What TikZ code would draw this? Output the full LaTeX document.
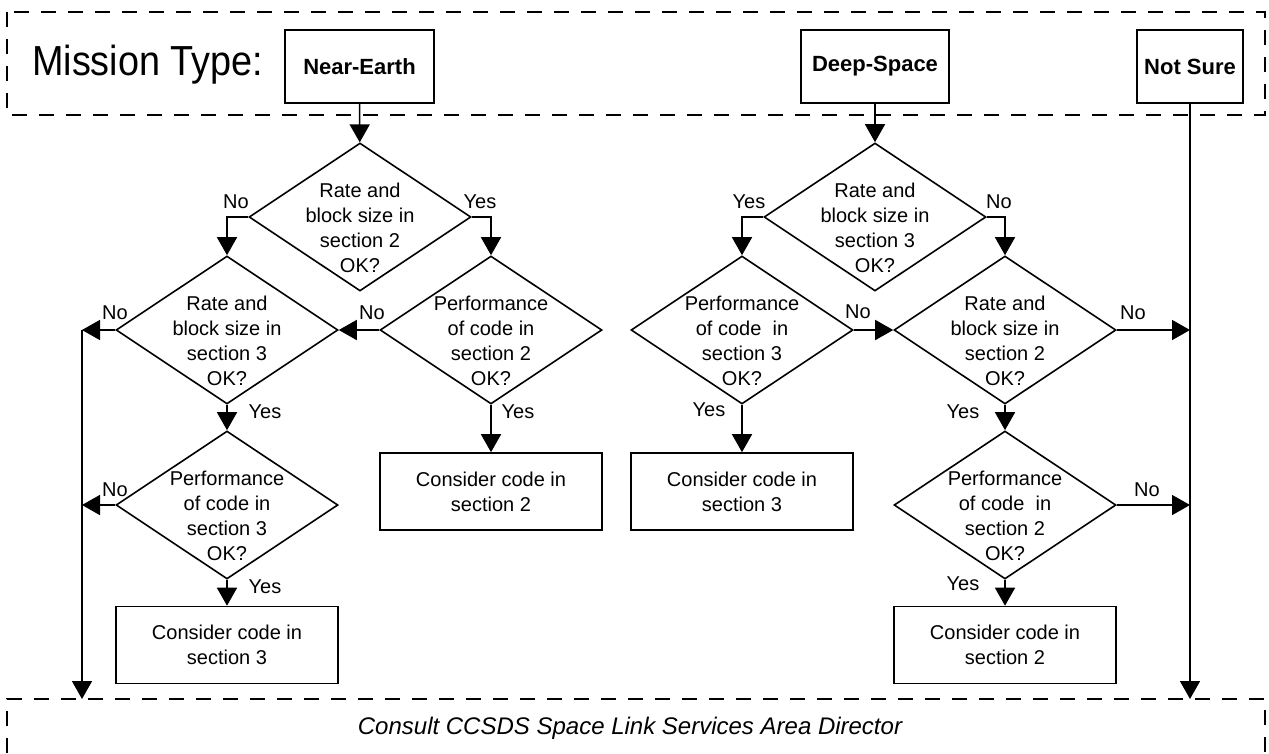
\documentclass[tikz,border=0pt]{standalone}
\usepackage{fontspec}
\setmainfont{Liberation Sans}
\newfontfamily\titlefont[FakeStretch=0.9]{Liberation Sans}
\usetikzlibrary{arrows.meta,shapes.geometric}

\begin{document}
\begin{tikzpicture}[x=1pt, y=-1pt,
        decision/.style={draw, diamond, line width=1.6pt, minimum width=222pt, minimum height=148pt, inner sep=0pt},
        dtext/.style={align=center, font=\fontsize{20}{25}\selectfont, yshift=-11pt},
        action/.style={draw, rectangle, line width=1.6pt, minimum width=222pt, minimum height=77pt, align=center, font=\fontsize{20}{25}\selectfont},
        mission/.style={draw, rectangle, line width=1.6pt, minimum height=73pt, font=\bfseries\fontsize{22}{26}\selectfont},
        yn/.style={font=\fontsize{20}{24}\selectfont, inner sep=0pt},
        arr/.style={line width=1.6pt, -{Triangle[length=18pt,width=20pt]}},
        frame/.style={line width=1.6pt, dash pattern=on 15pt off 12pt}
    ]
        \useasboundingbox (0,0) rectangle (1269,753);

        % Dashed frames (top: mission type, bottom: consult)
        \draw[frame] (7,12) rectangle (1265,115);
        \draw[frame] (7,753) -- (7,699) -- (1265,699) -- (1265,753);

        % --- Mission type row ---
        \node[anchor=base west, inner sep=0pt, font=\titlefont\fontsize{42}{48}\selectfont] (mtype) at (32,75) {Mission Type:};
        \node[mission, minimum width=149pt] (near) at (359.5,66.5) {Near-Earth};
        \node[mission, minimum width=148pt] (deep) at (875,66.5) {Deep-Space};
        \node[mission, minimum width=106pt] (notsure) at (1190,66.5) {Not Sure};

        % --- Near-Earth branch ---
        \node[decision, label={[dtext]center:{Rate and\\block size in\\section 2\\OK?}}] (ne1) at (360,217) {};
        \node[decision, label={[dtext]center:{Rate and\\block size in\\section 3\\OK?}}] (ne2) at (227,330) {};
        \node[decision, label={[dtext]center:{Performance\\of code in\\section 2\\OK?}}] (ne3) at (491,330) {};
        \node[decision, label={[dtext]center:{Performance\\of code in\\section 3\\OK?}}] (ne4) at (227,505) {};
        \node[action] (neb2) at (491,491.5) {Consider code in\\section 2};
        \node[action] (neb3) at (227,645) {Consider code in\\section 3};

        % --- Deep-Space branch ---
        \node[decision, label={[dtext]center:{Rate and\\block size in\\section 3\\OK?}}] (ds1) at (875,217) {};
        \node[decision, label={[dtext]center:{Performance\\of code\ \ in\\section 3\\OK?}}] (ds2) at (742,330) {};
        \node[decision, label={[dtext]center:{Rate and\\block size in\\section 2\\OK?}}] (ds3) at (1005,330) {};
        \node[decision, label={[dtext]center:{Performance\\of code\ \ in\\section 2\\OK?}}] (ds4) at (1005,505) {};
        \node[action] (dsb3) at (742,491.5) {Consider code in\\section 3};
        \node[action] (dsb2) at (1005,645) {Consider code in\\section 2};

        % --- Consult row ---
        \node[anchor=base, inner sep=0pt, font=\itshape\fontsize{24}{28}\selectfont] (consult) at (630,734) {Consult CCSDS Space Link Services Area Director};
        \coordinate (lft) at (82,699);
        \coordinate (rgt) at (1190,699);

        % Connectors, Near-Earth
        \draw[arr] (near) -- (ne1);
        \draw[arr] (ne1.west) -| (ne2.north);
        \draw[arr] (ne1.east) -| (ne3.north);
        \draw[arr] (ne3.west) -- (ne2.east);
        \draw[arr] (ne2.west) -- (ne2.west -| lft);
        \draw[arr] (ne2.west -| lft) -- (lft);
        \draw[arr] (ne2) -- (ne4);
        \draw[arr] (ne4.west) -- (ne4.west -| lft);
        \draw[arr] (ne4) -- (neb3);
        \draw[arr] (ne3) -- (neb2);

        % Connectors, Deep-Space
        \draw[arr] (deep) -- (ds1);
        \draw[arr] (ds1.west) -| (ds2.north);
        \draw[arr] (ds1.east) -| (ds3.north);
        \draw[arr] (ds2.east) -- (ds3.west);
        \draw[arr] (ds2) -- (dsb3);
        \draw[arr] (ds3.east) -- (ds3.east -| rgt);
        \draw[arr] (ds3) -- (ds4);
        \draw[arr] (ds4.east) -- (ds4.east -| rgt);
        \draw[arr] (ds4) -- (dsb2);
        \draw[arr] (notsure) -- (rgt);

        % Yes / No labels
        \node[yn] (ne1no) at (236,202) {No};
        \node[yn] (ne1yes) at (480,202) {Yes};
        \node[yn] (ne2no) at (115,313) {No};
        \node[yn] (ne3no) at (372,313) {No};
        \node[yn] (ne2yes) at (265,412) {Yes};
        \node[yn] (ne3yes) at (518,412) {Yes};
        \node[yn] (ne4no) at (115,490) {No};
        \node[yn] (ne4yes) at (265,587) {Yes};
        \node[yn] (ds1yes) at (749,202) {Yes};
        \node[yn] (ds1no) at (999,202) {No};
        \node[yn] (ds2no) at (858,312) {No};
        \node[yn] (ds2yes) at (709,410) {Yes};
        \node[yn] (ds3no) at (1133,313) {No};
        \node[yn] (ds3yes) at (963,412) {Yes};
        \node[yn] (ds4no) at (1147,490) {No};
        \node[yn] (ds4yes) at (963,584) {Yes};
    \end{tikzpicture}
\end{document}
